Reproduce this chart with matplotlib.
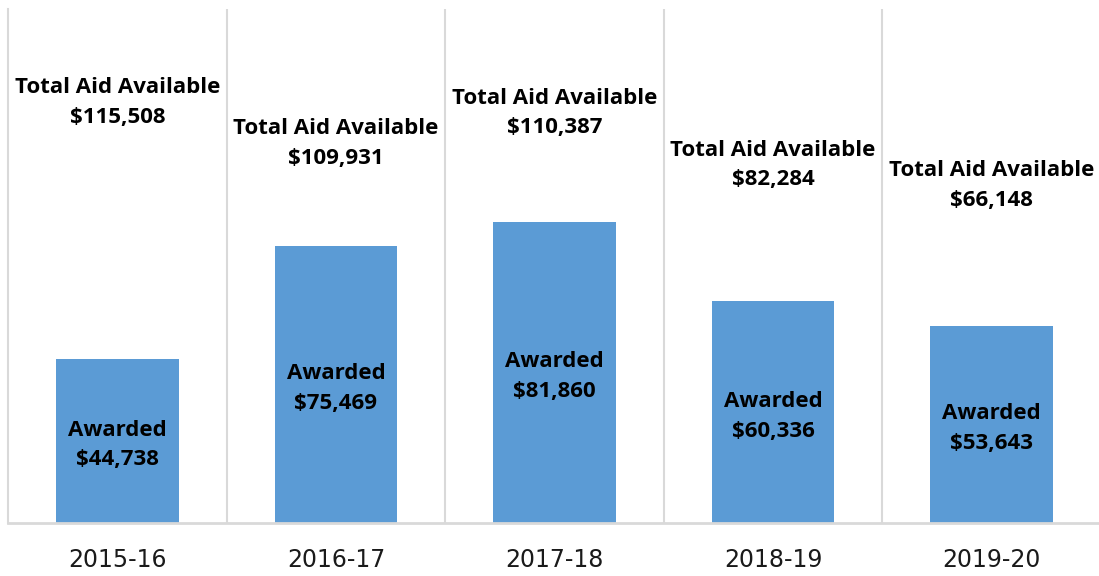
import matplotlib.pyplot as plt

years = ['2015-16', '2016-17', '2017-18', '2018-19', '2019-20']
awarded = [44738, 75469, 81860, 60336, 53643]
total_aid = [115508, 109931, 110387, 82284, 66148]

# where the "Total Aid Available" boxes sit (data units)
total_label_y = [114500, 103300, 111700, 97500, 92000]

plt.rcParams['font.family'] = ['Open Sans', 'DejaVu Sans']

fig = plt.figure(figsize=(10.99, 5.76), dpi=100)
ax = fig.add_axes([8 / 1099, 1 - 523 / 576, 1093 / 1099, 514 / 576])

x = range(len(years))
ax.bar(x, awarded, width=0.56, color='#5B9BD5', zorder=2)

label_kw = dict(ha='center', va='center', fontsize=16, fontweight='bold',
                linespacing=1.55, color='black', zorder=3,
                textcoords='offset points')
for i in x:
    ax.annotate('Awarded\n${:,}'.format(awarded[i]), (i, awarded[i] / 2),
                xytext=(0, -3), **label_kw)
    ax.annotate('Total Aid Available\n${:,}'.format(total_aid[i]),
                (i, total_label_y[i]), xytext=(0, 0), **label_kw)

# separators between the years
for b in [0.5, 1.5, 2.5, 3.5]:
    ax.axvline(b, color='#D9D9D9', lw=1.5, zorder=1)

ax.set_xlim(-0.5, 4.5)
ax.set_ylim(0, 140000)
ax.set_xticks(list(x))
ax.set_xticklabels(years, fontsize=17, family='DejaVu Sans', color='#1a1a1a')
ax.tick_params(axis='x', length=0, pad=18)
ax.set_yticks([])

for s in ['top', 'right']:
    ax.spines[s].set_visible(False)
ax.spines['left'].set_color('#D9D9D9')
ax.spines['left'].set_linewidth(1.5)
ax.spines['bottom'].set_color('#D9D9D9')
ax.spines['bottom'].set_linewidth(2)

fig.savefig('out.png', dpi=100)
